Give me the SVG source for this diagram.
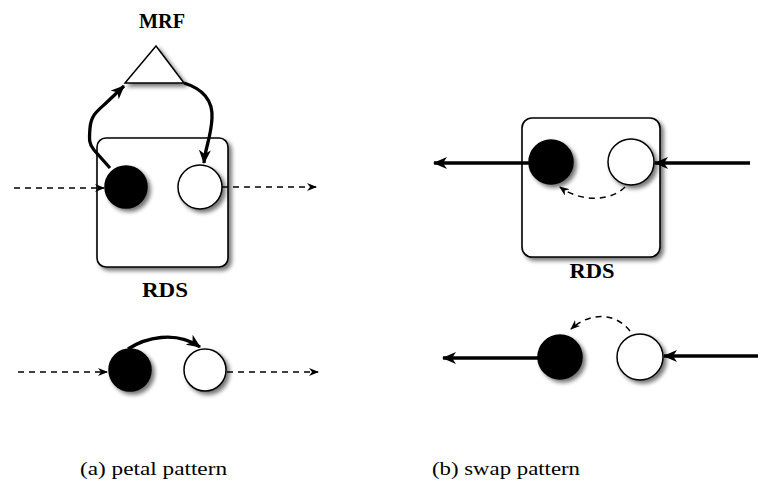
<svg xmlns="http://www.w3.org/2000/svg" width="758" height="491" viewBox="0 0 758 491">
<style>
.lbl{font-family:"Liberation Serif",serif;font-weight:bold;font-size:20px;fill:#000;text-anchor:middle}
.cap{font-family:"Liberation Serif",serif;font-size:19px;fill:#000}
.box{fill:#fff;stroke:#000;stroke-width:1.6}
.blk{fill:#000;stroke:#000;stroke-width:1.5}
.wht{fill:#fff;stroke:#000;stroke-width:1.5}
.thick{fill:none;stroke:#000;stroke-width:3.3}
.dash{fill:none;stroke:#000;stroke-width:1.5;stroke-dasharray:6,5}
</style>
<defs>
<filter id="sh" x="-30%" y="-30%" width="170%" height="170%">
<feGaussianBlur in="SourceAlpha" stdDeviation="2.2"/>
<feOffset dx="3" dy="3" result="b"/>
<feComponentTransfer><feFuncA type="linear" slope="0.55"/></feComponentTransfer>
<feMerge><feMergeNode/><feMergeNode in="SourceGraphic"/></feMerge>
</filter>
<marker id="ah" viewBox="0 0 14 12" refX="13" refY="6" markerWidth="14" markerHeight="12" markerUnits="userSpaceOnUse" orient="auto">
<path d="M0,0 L14,6 L0,12 L4,6 Z" fill="#000"/>
</marker>
<marker id="ad" viewBox="0 0 10 8" refX="9" refY="4" markerWidth="10" markerHeight="8" markerUnits="userSpaceOnUse" orient="auto">
<path d="M0,0 L10,4 L0,8 L3,4 Z" fill="#000"/>
</marker>
</defs>

<g id="mrf">
<polygon points="156,46 125,83 184,83" fill="#fff" stroke="#000" stroke-width="1.5" filter="url(#sh)"/>
<text class="lbl" x="162" y="28" textLength="46" lengthAdjust="spacingAndGlyphs">MRF</text>
</g>

<g id="rds-a">
<rect class="box" x="97" y="138" width="131" height="129" rx="9" filter="url(#sh)"/>
<text class="lbl" x="165" y="297" textLength="46" lengthAdjust="spacingAndGlyphs">RDS</text>
</g>
<g id="a-black"><circle class="blk" cx="126" cy="187" r="21" filter="url(#sh)"/></g>
<g id="a-white"><circle class="wht" cx="200" cy="187" r="22" filter="url(#sh)"/></g>

<g id="a2-black"><circle class="blk" cx="130" cy="370" r="21" filter="url(#sh)"/></g>
<g id="a2-white"><circle class="wht" cx="205" cy="370" r="21" filter="url(#sh)"/></g>

<g id="rds-b">
<rect class="box" x="522" y="118" width="138" height="139" rx="10" filter="url(#sh)"/>
<text class="lbl" x="592" y="278" textLength="45" lengthAdjust="spacingAndGlyphs">RDS</text>
</g>
<g id="b-black"><circle class="blk" cx="551" cy="162" r="22" filter="url(#sh)"/></g>
<g id="b-white"><circle class="wht" cx="631" cy="162" r="23" filter="url(#sh)"/></g>

<g id="b2-black"><circle class="blk" cx="560" cy="357" r="22" filter="url(#sh)"/></g>
<g id="b2-white"><circle class="wht" cx="640" cy="357" r="23" filter="url(#sh)"/></g>

<g id="connectors">
<path class="dash" d="M14,188 L104,188" marker-end="url(#ad)"/>
<path class="dash" d="M222,187 L316,187" marker-end="url(#ad)"/>
<path class="thick" d="M110,168 L94,150 C89,144 89,140 90,128 C91,116 96,112 105,104 L124,86" marker-end="url(#ah)"/>
<path class="thick" d="M184,83 C200,88 213,98 212,118 C211,138 205,148 204,163" marker-end="url(#ah)"/>

<path class="dash" d="M18,372 L107,372" marker-end="url(#ad)"/>
<path class="dash" d="M227,372 L318,372" marker-end="url(#ad)"/>
<path class="thick" d="M128,349 C145,338 175,330 200,347" marker-end="url(#ah)"/>

<path class="thick" d="M529,163 L434,163" marker-end="url(#ah)"/>
<path class="thick" d="M750,163 L655,163" marker-end="url(#ah)"/>
<path class="dash" d="M625,187 C610,202 580,202 560,187" marker-end="url(#ad)"/>

<path class="thick" d="M538,358 L443,358" marker-end="url(#ah)"/>
<path class="thick" d="M758,356 L664,356" marker-end="url(#ah)"/>
<path class="dash" d="M630,331 C615,312 590,312 571,329" marker-end="url(#ad)"/>
</g>

<text class="cap" x="80" y="475" textLength="147" lengthAdjust="spacingAndGlyphs">(a) petal pattern</text>
<text class="cap" x="432" y="475" textLength="148" lengthAdjust="spacingAndGlyphs">(b) swap pattern</text>
</svg>
